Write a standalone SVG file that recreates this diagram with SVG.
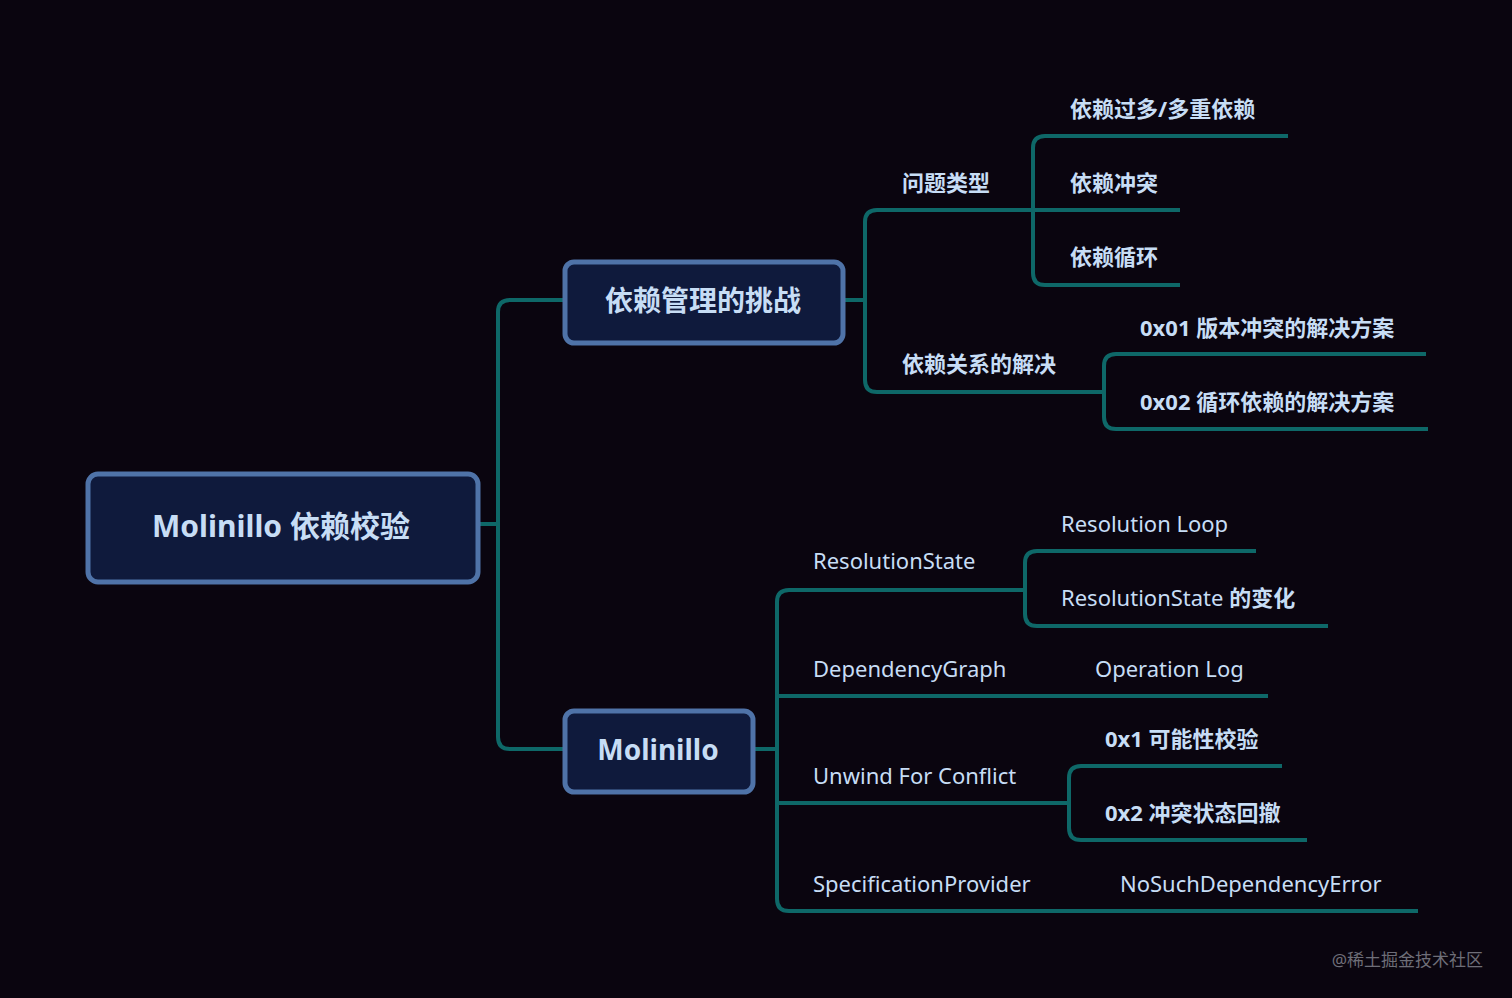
<svg xmlns="http://www.w3.org/2000/svg" width="1512" height="998" viewBox="0 0 1512 998">
<style>
.bg{fill:#0a050f}
.n{fill:#0f1a3c;stroke:#4f73a8;stroke-width:5}
.c path{fill:none;stroke:#0e6868;stroke-width:4;stroke-linejoin:round}
text{font-family:"Noto Sans","Noto Sans CJK SC",sans-serif;fill:#c7ddf5}
.t{font-size:22px}
.b{font-size:22px;font-weight:bold}
.nt{font-size:30px;font-weight:bold;text-anchor:middle}
</style>
<rect class="bg" width="1512" height="998"/>
<g class="c">
<path d="M478 524H498M565 300H510Q498 300 498 312V737Q498 749 510 749H565"/>
<path d="M843 300H865M1033 210H877Q865 210 865 222V380Q865 392 877 392H1104"/>
<path d="M1288 136H1045Q1033 136 1033 148V273Q1033 285 1045 285H1180M1033 210H1180"/>
<path d="M1426 354H1116Q1104 354 1104 366V417Q1104 429 1116 429H1428"/>
<path d="M753 749H777M1025 590H789Q777 590 777 602V899Q777 911 789 911H1418M777 696H1268M777 803H1069"/>
<path d="M1256 551H1037Q1025 551 1025 563V614Q1025 626 1037 626H1328"/>
<path d="M1282 766H1081Q1069 766 1069 778V828Q1069 840 1081 840H1307"/>
</g>
<g id="root"><rect class="n" x="88" y="474" width="390" height="108" rx="10"/><text class="nt" x="281" y="537">Molinillo 依赖校验</text></g>
<g id="b1"><rect class="n" x="565" y="262" width="278" height="81" rx="9"/><text class="nt" x="703" y="311" style="font-size:28px">依赖管理的挑战</text></g>
<g id="b2"><rect class="n" x="565" y="711" width="188" height="81" rx="9"/><text class="nt" x="658" y="760" style="font-size:28px">Molinillo</text></g>
<g id="l1"><text class="b" x="902" y="191">问题类型</text></g>
<g id="l2"><text class="b" x="1070" y="117">依赖过多/多重依赖</text></g>
<g id="l3"><text class="b" x="1070" y="191">依赖冲突</text></g>
<g id="l4"><text class="b" x="1070" y="265">依赖循环</text></g>
<g id="l5"><text class="b" x="902" y="372">依赖关系的解决</text></g>
<g id="l6"><text class="b" x="1140" y="336">0x01 版本冲突的解决方案</text></g>
<g id="l7"><text class="b" x="1140" y="410">0x02 循环依赖的解决方案</text></g>
<g id="l8"><text class="t" x="813" y="569">ResolutionState</text></g>
<g id="l9"><text class="t" x="1061" y="532">Resolution Loop</text></g>
<g id="l10"><text class="t" x="1061" y="606">ResolutionState <tspan font-weight="bold">的变化</tspan></text></g>
<g id="l11"><text class="t" x="813" y="677">DependencyGraph</text></g>
<g id="l12"><text class="t" x="1095" y="677">Operation Log</text></g>
<g id="l13"><text class="t" x="813" y="784">Unwind For Conflict</text></g>
<g id="l14"><text class="b" x="1105" y="747">0x1 可能性校验</text></g>
<g id="l15"><text class="b" x="1105" y="821">0x2 冲突状态回撤</text></g>
<g id="l16"><text class="t" x="813" y="892">SpecificationProvider</text></g>
<g id="l17"><text class="t" x="1120" y="892">NoSuchDependencyError</text></g>
<text x="1483" y="966" style="font-size:17px;fill:#6e6e78;text-anchor:end">@稀土掘金技术社区</text>
</svg>
